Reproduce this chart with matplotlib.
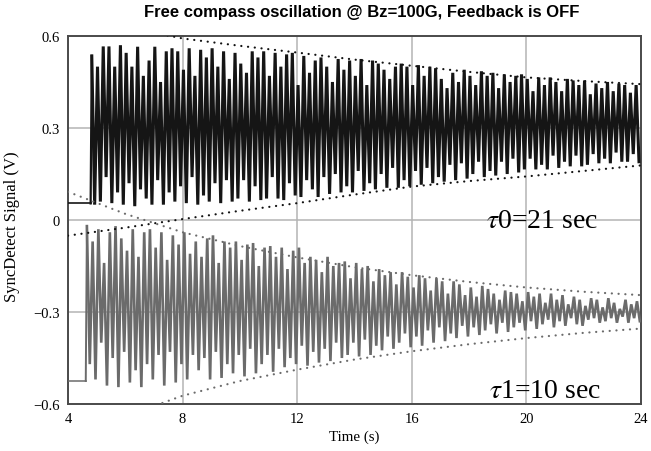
import numpy as np
import matplotlib
matplotlib.use("Agg")
import matplotlib.pyplot as plt

# ---------------- data ----------------
x_ticks = [4, 8, 12, 16, 20, 24]
y_ticks = [-0.6, -0.3, 0.0, 0.3, 0.6]
y_ticklabels = ["\u22120.6", "\u22120.3", "0", "0.3", "0.6"]

sample_dt = 0.1            # spacing between successive vertices (s)

# channel 0 (black): baseline before release, then oscillation
black_pre_t = [4.0, 4.79]
black_pre_v = [0.054, 0.054]
black_t0 = 4.83
black_highs = [
    0.535, 0.50, 0.566, 0.566, 0.50,
    0.57, 0.545, 0.50, 0.565, 0.47,
    0.52, 0.565, 0.45, 0.55, 0.56,
    0.55, 0.49, 0.56, 0.47, 0.555,
    0.53, 0.56, 0.50, 0.55, 0.46,
    0.545, 0.51, 0.48, 0.55, 0.53,
    0.55, 0.47, 0.545, 0.50, 0.54,
    0.545, 0.44, 0.535, 0.48, 0.52,
    0.53, 0.50, 0.45, 0.525, 0.49,
    0.52, 0.47, 0.525, 0.44, 0.52,
    0.51, 0.49, 0.46, 0.50, 0.51,
    0.50, 0.44, 0.505, 0.47, 0.50,
    0.495, 0.46, 0.43, 0.48, 0.45,
    0.49, 0.47, 0.44, 0.485, 0.47,
    0.48, 0.43, 0.475, 0.45, 0.47,
    0.475, 0.46, 0.42, 0.465, 0.44,
    0.465, 0.45, 0.42, 0.46, 0.455,
    0.44, 0.455, 0.41, 0.445, 0.43,
    0.45, 0.42, 0.445, 0.44, 0.415, 0.44,
]
black_lows = [
    0.05, 0.06, 0.14, 0.055, 0.09,
    0.05, 0.12, 0.045, 0.10, 0.07,
    0.05, 0.13, 0.05, 0.09, 0.06,
    0.11, 0.055, 0.14, 0.05, 0.08,
    0.06, 0.12, 0.055, 0.13, 0.06,
    0.07, 0.13, 0.06, 0.11, 0.065,
    0.07, 0.14, 0.07, 0.065, 0.12,
    0.08, 0.075, 0.13, 0.10, 0.075,
    0.14, 0.085, 0.15, 0.09, 0.11,
    0.09, 0.16, 0.095, 0.12, 0.10,
    0.15, 0.105, 0.17, 0.105, 0.13,
    0.11, 0.16, 0.115, 0.17, 0.12,
    0.14, 0.125, 0.18, 0.13, 0.185,
    0.135, 0.15, 0.19, 0.14, 0.16,
    0.145, 0.19, 0.15, 0.20, 0.155,
    0.165, 0.20, 0.165, 0.18, 0.165,
    0.21, 0.17, 0.19, 0.175, 0.21,
    0.175, 0.18, 0.215, 0.185, 0.20,
    0.185, 0.22, 0.19, 0.19, 0.215, 0.19,
]

# channel 1 (gray)
gray_pre_t = [4.0, 4.62]
gray_pre_v = [-0.525, -0.525]
gray_t0 = 4.66
gray_highs = [
    -0.02, -0.07, -0.03, -0.14, -0.04,
    -0.02, -0.06, -0.10, -0.03, -0.12,
    -0.04, -0.03, -0.09, -0.04, -0.13,
    -0.05, -0.08, -0.04, -0.11, -0.07,
    -0.12, -0.06, -0.05, -0.14, -0.07,
    -0.09, -0.07, -0.13, -0.08, -0.075,
    -0.15, -0.09, -0.085, -0.12, -0.09,
    -0.16, -0.10, -0.09, -0.14, -0.12,
    -0.13, -0.17, -0.12, -0.15, -0.14,
    -0.135, -0.19, -0.14, -0.16, -0.15,
    -0.20, -0.16, -0.18, -0.17, -0.21,
    -0.17, -0.185, -0.22, -0.18, -0.19,
    -0.23, -0.19, -0.20, -0.24, -0.20,
    -0.21, -0.245, -0.22, -0.25, -0.215,
    -0.225, -0.24, -0.26, -0.23, -0.235,
    -0.24, -0.265, -0.235, -0.25, -0.24,
    -0.27, -0.24, -0.26, -0.245, -0.275,
    -0.25, -0.26, -0.28, -0.255, -0.26,
    -0.285, -0.255, -0.27, -0.29, -0.26, -0.275, -0.265,
]
gray_lows = [
    -0.47, -0.52, -0.40, -0.54, -0.45,
    -0.545, -0.43, -0.53, -0.49, -0.545,
    -0.47, -0.52, -0.44, -0.54, -0.43,
    -0.53, -0.47, -0.52, -0.44, -0.49,
    -0.45, -0.52, -0.43, -0.515, -0.47,
    -0.50, -0.44, -0.51, -0.42, -0.50,
    -0.47, -0.44, -0.495, -0.42, -0.48,
    -0.45, -0.47, -0.41, -0.475, -0.43,
    -0.465, -0.42, -0.46, -0.40, -0.45,
    -0.44, -0.40, -0.445, -0.39, -0.44,
    -0.41, -0.425, -0.38, -0.42, -0.40,
    -0.37, -0.415, -0.38, -0.41, -0.36,
    -0.40, -0.35, -0.395, -0.37, -0.385,
    -0.345, -0.38, -0.35, -0.375, -0.36,
    -0.34, -0.37, -0.335, -0.365, -0.35,
    -0.335, -0.36, -0.33, -0.355, -0.34,
    -0.325, -0.35, -0.33, -0.345, -0.32,
    -0.34, -0.345, -0.325, -0.32, -0.335,
    -0.33, -0.32, -0.335, -0.315, -0.335, -0.32, -0.33,
]

# fitted decay envelopes (dotted), sampled every 2 s
env_t = [4, 6, 8, 10, 12, 14, 16, 18, 20, 22, 24]
black_env_upper = [0.67, 0.63, 0.592, 0.568, 0.546, 0.523, 0.503, 0.483, 0.465, 0.453, 0.443]
black_env_lower = [-0.051, -0.025, 0.003, 0.03, 0.055, 0.083, 0.109, 0.127, 0.142, 0.16, 0.178]
gray_env_upper = [0.092, 0.02, -0.04, -0.085, -0.122, -0.154, -0.18, -0.202, -0.22, -0.234, -0.245]
gray_env_lower = [-0.72, -0.64, -0.573, -0.525, -0.488, -0.455, -0.428, -0.405, -0.385, -0.368, -0.354]

title = "Free compass oscillation @ Bz=100G, Feedback is OFF"
xlabel = "Time (s)"
ylabel = "SyncDetect Signal (V)"
tau0_text = r"$\tau$0=21 sec"
tau1_text = r"$\tau$1=10 sec"


def build_series(t0, highs, lows):
    n = len(highs) + len(lows)
    vals = np.empty(n)
    vals[0::2] = highs
    vals[1::2] = lows
    t = t0 + sample_dt * np.arange(n)
    return t, vals


plt.rcParams["mathtext.fontset"] = "stix"
serif = "Liberation Serif"

fig = plt.figure(figsize=(6.51, 4.52), dpi=100)
ax = fig.add_axes([68 / 651, 1 - 405 / 452, (641 - 68) / 651, (405 - 37) / 452])

bt, bv = build_series(black_t0, black_highs, black_lows)
gt, gv = build_series(gray_t0, gray_highs, gray_lows)

gray_c = "#6b6b6b"
black_c = "#151515"
# baselines before release (thin) and the jump to the first vertex
ax.plot(gray_pre_t, gray_pre_v, color=gray_c, lw=1.1, zorder=3)
ax.plot([gray_pre_t[-1], gt[0]], [gray_pre_v[-1], gv[0]], color=gray_c, lw=1.4, zorder=3)
ax.plot(gt, gv, color=gray_c, lw=1.9, solid_joinstyle="miter", zorder=3)
ax.plot(black_pre_t, black_pre_v, color=black_c, lw=1.2, zorder=4)
ax.plot([black_pre_t[-1], bt[0]], [black_pre_v[-1], bv[0]], color=black_c, lw=1.6, zorder=4)
ax.plot(bt, bv, color=black_c, lw=2.2, solid_joinstyle="miter", zorder=4)

dot = (0, (0.05, 3.0))
ax.plot(env_t, black_env_upper, color="#111111", lw=1.6, ls=dot, dash_capstyle="round", zorder=5)
ax.plot(env_t, black_env_lower, color="#111111", lw=1.6, ls=dot, dash_capstyle="round", zorder=5)
ax.plot(env_t, gray_env_upper, color=gray_c, lw=1.6, ls=dot, dash_capstyle="round", zorder=5)
ax.plot(env_t, gray_env_lower, color=gray_c, lw=1.6, ls=dot, dash_capstyle="round", zorder=5)

ax.set_xlim(4, 24)
ax.set_ylim(-0.6, 0.6)
ax.set_xticks(x_ticks)
ax.set_xticklabels([str(v) for v in x_ticks], fontfamily=serif, fontsize=10.5)
ax.set_yticks(y_ticks)
ax.set_yticklabels(y_ticklabels, fontfamily=serif, fontsize=10.5)
ax.tick_params(length=0, pad=6)
ax.grid(True, color="#b4b4b4", lw=1.1)
ax.set_axisbelow(True)
for s in ax.spines.values():
    s.set_color("#4a4a4a")
    s.set_linewidth(1.4)

ax.set_xlabel(xlabel, fontfamily=serif, fontsize=10.8)
ax.xaxis.set_label_coords(0.5, -0.07)
ax.set_ylabel(ylabel, fontfamily=serif, fontsize=12)
ax.yaxis.set_label_coords(-0.083, 0.485)

ax.text(18.58, -0.023, tau0_text, fontfamily=serif, fontsize=20, ha="left", va="baseline", zorder=6)
ax.text(18.69, -0.576, tau1_text, fontfamily=serif, fontsize=20, ha="left", va="baseline", zorder=6)

fig.text(362 / 651, 1 - 13 / 452, title, fontfamily="Liberation Sans", fontweight="bold",
         fontsize=12, ha="center", va="center")

fig.savefig("out.png", dpi=100)
